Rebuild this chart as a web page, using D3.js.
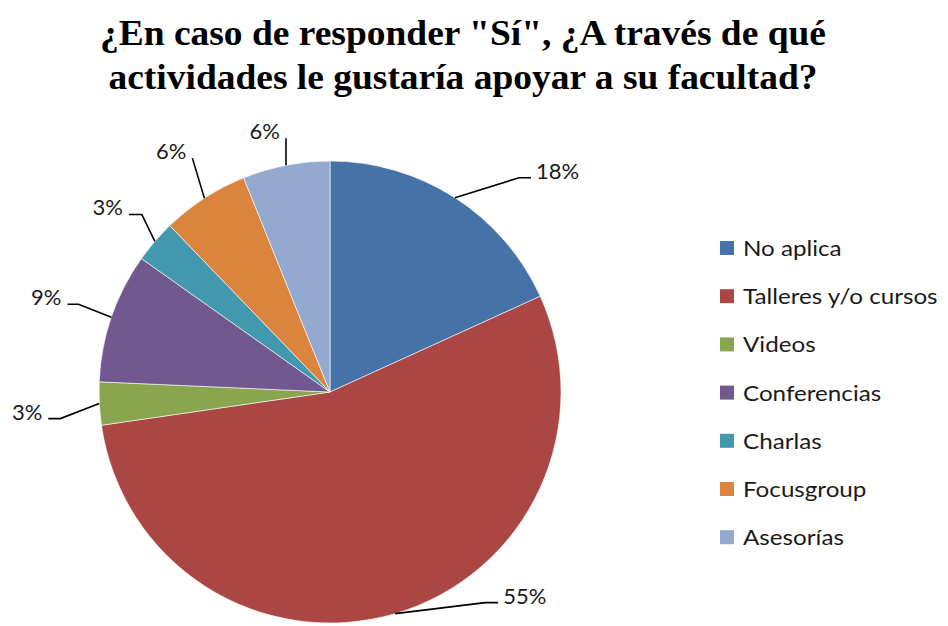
<!DOCTYPE html>
<html>
<head>
<meta charset="utf-8">
<script src="https://cdn.jsdelivr.net/npm/d3@7"></script>
<style>
  body { margin: 0; background: #fff; }
  svg { display: block; }
</style>
</head>
<body>
<div id="chart-container"></div>
<script>
// chart data
let categories = ["No aplica", "Talleres y/o cursos", "Videos", "Conferencias", "Charlas", "Focusgroup", "Asesorías"];
let shares = [18.2, 54.5, 3.0, 9.1, 3.0, 6.1, 6.1];
let shareLabels = ["18%", "55%", "3%", "9%", "3%", "6%", "6%"];
let colors = ["#4572A7", "#AA4643", "#89A54E", "#71588F", "#4198AF", "#DB843D", "#93A9CF"];
let titleLines = ["¿En caso de responder \"Sí\", ¿A través de qué", "actividades le gustaría apoyar a su facultad?"];

// leader line elbow offset from slice edge, and horizontal tail length
let leaderLayout = [
    {dx: 64, dy: -20, tail: 12},
    {dx: 90, dy: -11, tail: 13},
    {dx: -39, dy: 15, tail: 12},
    {dx: -33, dy: -13, tail: 11},
    {dx: -13, dy: -27, tail: 13},
    {dx: -12, dy: -40, tail: 0},
    {dx: 0, dy: -27, tail: 0}
];

let width = 948, height = 626;
let cx = 330, cy = 392, radius = 231;
let labelFont = "Lato, 'Noto Sans', sans-serif";

let svg = d3.select("#chart-container")
    .append("svg")
    .attr("width", width)
    .attr("height", height);

// Title (the original is a little stretched horizontally)
let titleWidths = [726, 709];
svg.append("g")
    .selectAll("text")
    .data(titleLines)
    .enter()
    .append("text")
    .attr("x", 463)
    .attr("y", (d, i) => 45 + i * 44)
    .attr("textLength", (d, i) => titleWidths[i])
    .attr("lengthAdjust", "spacingAndGlyphs")
    .style("text-anchor", "middle")
    .style("font-family", "'Liberation Serif', 'Times New Roman', serif")
    .style("font-weight", "bold")
    .style("font-size", "35px")
    .style("fill", "#000")
    .text(d => d);

// Pie
let pie = d3.pie().sort(null).value(d => d);
let arcs = pie(shares);
let arc = d3.arc().innerRadius(0).outerRadius(radius);

let g = svg.append("g")
    .attr("transform", "translate(" + cx + "," + cy + ")");

g.selectAll("path")
    .data(arcs)
    .enter()
    .append("path")
    .attr("d", arc)
    .style("fill", (d, i) => colors[i])
    .style("stroke", "#fff")
    .style("stroke-width", 0.6);

// Labels with leader lines
arcs.forEach((d, i) => {
    let mid = (d.startAngle + d.endAngle) / 2;
    let px = radius * Math.sin(mid);
    let py = -radius * Math.cos(mid);
    let lay = leaderLayout[i];
    let ex = px + lay.dx, ey = py + lay.dy;
    let right = lay.dx > 0;
    let tx = ex + (right ? lay.tail : -lay.tail);
    g.append("polyline")
        .attr("points", [[px, py], [ex, ey], [tx, ey]].map(p => p.join(",")).join(" "))
        .style("fill", "none")
        .style("stroke", "#000")
        .style("stroke-width", 1.6);
    g.append("text")
        .attr("x", tx + (right ? 5 : -6))
        .attr("y", ey + 1)
        .style("text-anchor", right ? "start" : "end")
        .style("font-family", labelFont)
        .style("font-size", "22px")
        .style("fill", "#1a1a1a")
        .text(shareLabels[i]);
});

// Legend
let legend = svg.append("g")
    .attr("transform", "translate(720,241)");
let rows = legend.selectAll("g")
    .data(categories)
    .enter()
    .append("g")
    .attr("transform", (d, i) => "translate(0," + (i * 48.2) + ")");
rows.append("rect")
    .attr("width", 14)
    .attr("height", 14)
    .style("fill", (d, i) => colors[i]);
rows.append("text")
    .attr("transform", "translate(23,15) scale(1.1,1)")
    .style("font-family", labelFont)
    .style("font-size", "22px")
    .style("fill", "#1a1a1a")
    .text(d => d);
</script>
</body>
</html>
